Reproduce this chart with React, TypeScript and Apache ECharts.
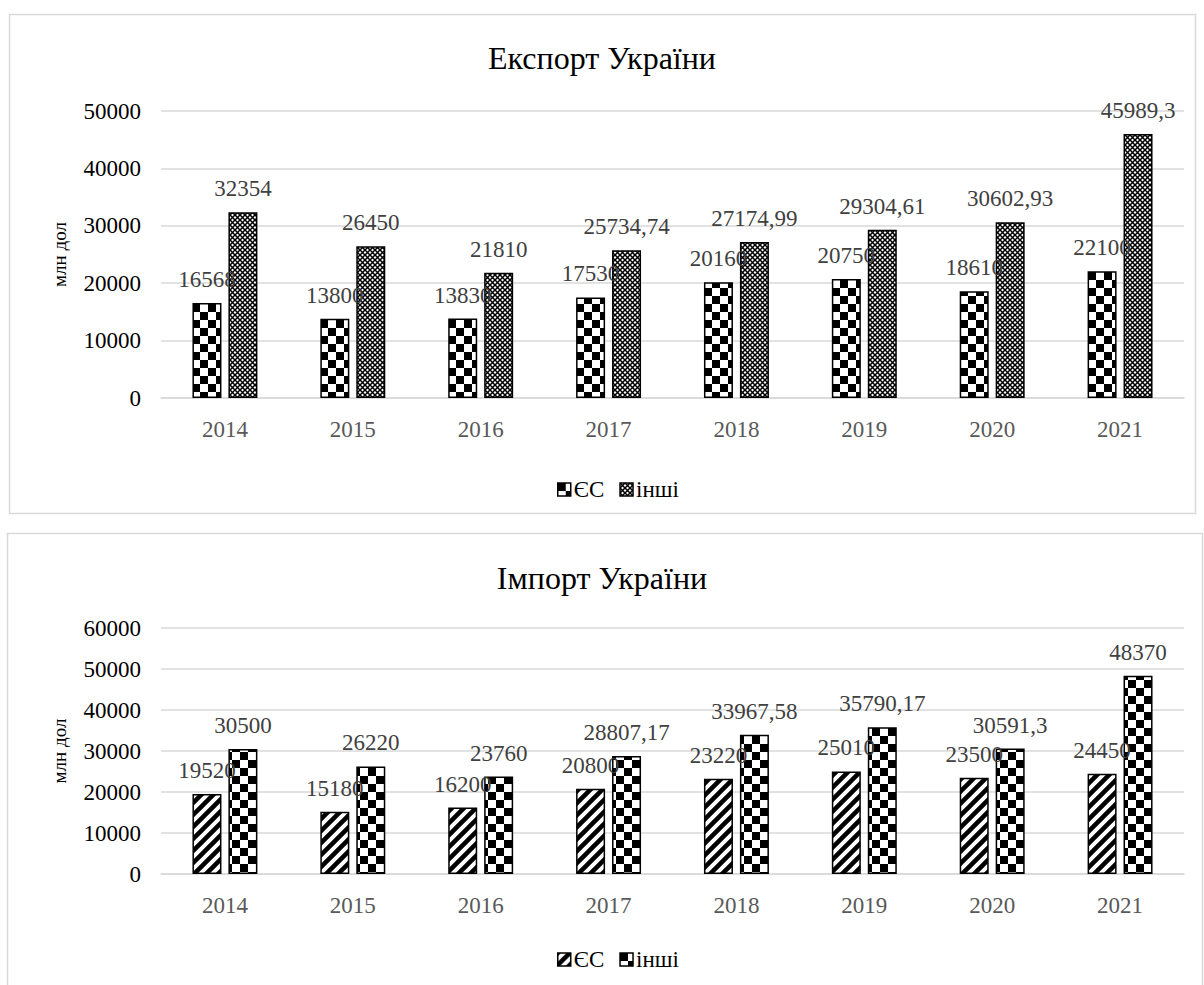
import React, { useEffect, useRef } from 'react';
import * as echarts from 'echarts';

const years = ['2014', '2015', '2016', '2017', '2018', '2019', '2020', '2021'];
const exportEU = [16568, 13800, 13830, 17530, 20160, 20750, 18610, 22100];
const exportOther = [32354, 26450, 21810, 25734.74, 27174.99, 29304.61, 30602.93, 45989.3];
const importEU = [19520, 15180, 16200, 20800, 23220, 25010, 23500, 24450];
const importOther = [30500, 26220, 23760, 28807.17, 33967.58, 35790.17, 30591.3, 48370];
const seriesNames = ['ЄС', 'інші'];
const exportTitle = 'Експорт України';
const importTitle = 'Імпорт України';
const axisName = 'млн дол';

const FONT = 'Liberation Serif';

function tile(size: number, draw: (ctx: CanvasRenderingContext2D) => void) {
  const c = document.createElement('canvas');
  c.width = size;
  c.height = size;
  const ctx = c.getContext('2d') as CanvasRenderingContext2D;
  ctx.fillStyle = '#fff';
  ctx.fillRect(0, 0, size, size);
  draw(ctx);
  return { image: c, repeat: 'repeat', imageWidth: size, imageHeight: size } as any;
}

function checker(sq: number) {
  return tile(sq * 2, (ctx) => {
    ctx.fillStyle = '#000';
    ctx.fillRect(0, 0, sq, sq);
    ctx.fillRect(sq, sq, sq, sq);
  });
}

function diamonds() {
  return tile(5, (ctx) => {
    ctx.strokeStyle = '#000';
    ctx.lineWidth = 1.5;
    ctx.beginPath();
    ctx.moveTo(-1, -1); ctx.lineTo(6, 6);
    ctx.moveTo(-1, 6); ctx.lineTo(6, -1);
    ctx.stroke();
  });
}

function stripes() {
  return tile(12, (ctx) => {
    ctx.strokeStyle = '#000';
    ctx.lineWidth = 4.5;
    ctx.beginPath();
    ctx.moveTo(-2, 14); ctx.lineTo(14, -2);
    ctx.moveTo(-8, 8); ctx.lineTo(8, -8);
    ctx.moveTo(4, 20); ctx.lineTo(20, 4);
    ctx.stroke();
  });
}

const fmt = (p: any) => String(p.value).replace('.', ',');

function barSeries(name: string, data: number[], idx: number, color: any) {
  return {
    type: 'bar',
    name,
    data,
    xAxisIndex: idx,
    yAxisIndex: idx,
    barWidth: 29,
    barGap: '24%',
    itemStyle: { color, borderColor: '#000', borderWidth: 1.5 },
    label: {
      show: true,
      position: 'top',
      distance: 12,
      color: '#404040',
      fontSize: 23,
      fontFamily: FONT,
      formatter: fmt,
    },
  };
}

export default function App() {
  const ref = useRef<HTMLDivElement>(null);
  useEffect(() => {
    if (!ref.current) return;
    const chart = echarts.init(ref.current, undefined, { renderer: 'svg' });
    const pExpEU = checker(8);
    const pExpOther = diamonds();
    const pImpEU = stripes();
    const pImpOther = checker(8);
    const xAxisBase = (gridIndex: number) => ({
      type: 'category',
      gridIndex,
      data: years,
      axisTick: { show: false },
      axisLine: { lineStyle: { color: '#d9d9d9', width: 1.5 } },
      axisLabel: { color: '#595959', fontSize: 23, fontFamily: FONT, margin: 20 },
    });
    const yAxisBase = (gridIndex: number, max: number) => ({
      type: 'value',
      gridIndex,
      min: 0,
      max,
      interval: 10000,
      name: axisName,
      nameLocation: 'middle',
      nameRotate: 90,
      nameGap: 92,
      nameTextStyle: { color: '#000', fontSize: 19, fontFamily: FONT },
      axisLine: { show: false },
      axisTick: { show: false },
      splitLine: { lineStyle: { color: '#d9d9d9', width: 1.5 } },
      axisLabel: {
        color: '#000',
        fontSize: 23,
        fontFamily: FONT,
        margin: 20,
        formatter: (v: number) => String(v),
      },
    });
    const legendBase = (top: number, c1: any, c2: any) => ({
      top,
      left: 552,
      itemWidth: 13,
      itemHeight: 13,
      itemGap: 15,
      icon: 'rect',
      textStyle: { color: '#000', fontSize: 23, fontFamily: FONT, padding: [0, 0, 0, -2] },
      data: [
        { name: seriesNames[0], itemStyle: { color: c1, borderColor: '#000', borderWidth: 1.5 } },
        { name: seriesNames[1], itemStyle: { color: c2, borderColor: '#000', borderWidth: 1.5 } },
      ],
    });
    chart.setOption({
      animation: false,
      backgroundColor: '#fff',
      graphic: [
        {
          type: 'rect',
          shape: { x: 9.5, y: 14.5, width: 1186, height: 499 },
          style: { fill: 'none', stroke: '#d9d9d9', lineWidth: 1.5 },
          silent: true,
        },
        {
          type: 'rect',
          shape: { x: 7.5, y: 533.5, width: 1195, height: 470 },
          style: { fill: 'none', stroke: '#d9d9d9', lineWidth: 1.5 },
          silent: true,
        },
      ],
      title: [
        {
          text: exportTitle,
          left: 'center',
          top: 37,
          textStyle: { color: '#000', fontSize: 32, fontWeight: 'normal', fontFamily: FONT },
        },
        {
          text: importTitle,
          left: 'center',
          top: 557,
          textStyle: { color: '#000', fontSize: 32, fontWeight: 'normal', fontFamily: FONT },
        },
      ],
      legend: [
        legendBase(473, pExpEU, pExpOther) as any,
        legendBase(943, pImpEU, pImpOther) as any,
      ],
      grid: [
        { left: 161, width: 1023, top: 111, height: 287 },
        { left: 161, width: 1023, top: 628, height: 246 },
      ],
      xAxis: [xAxisBase(0), xAxisBase(1)],
      yAxis: [yAxisBase(0, 50000), yAxisBase(1, 60000)],
      series: [
        barSeries(seriesNames[0], exportEU, 0, pExpEU),
        barSeries(seriesNames[1], exportOther, 0, pExpOther),
        barSeries(seriesNames[0], importEU, 1, pImpEU),
        barSeries(seriesNames[1], importOther, 1, pImpOther),
      ],
    } as any);
    return () => chart.dispose();
  }, []);
  return (
    <div
      ref={ref}
      style={{ position: 'absolute', left: 0, top: 0, width: 1204, height: 985 }}
    />
  );
}
